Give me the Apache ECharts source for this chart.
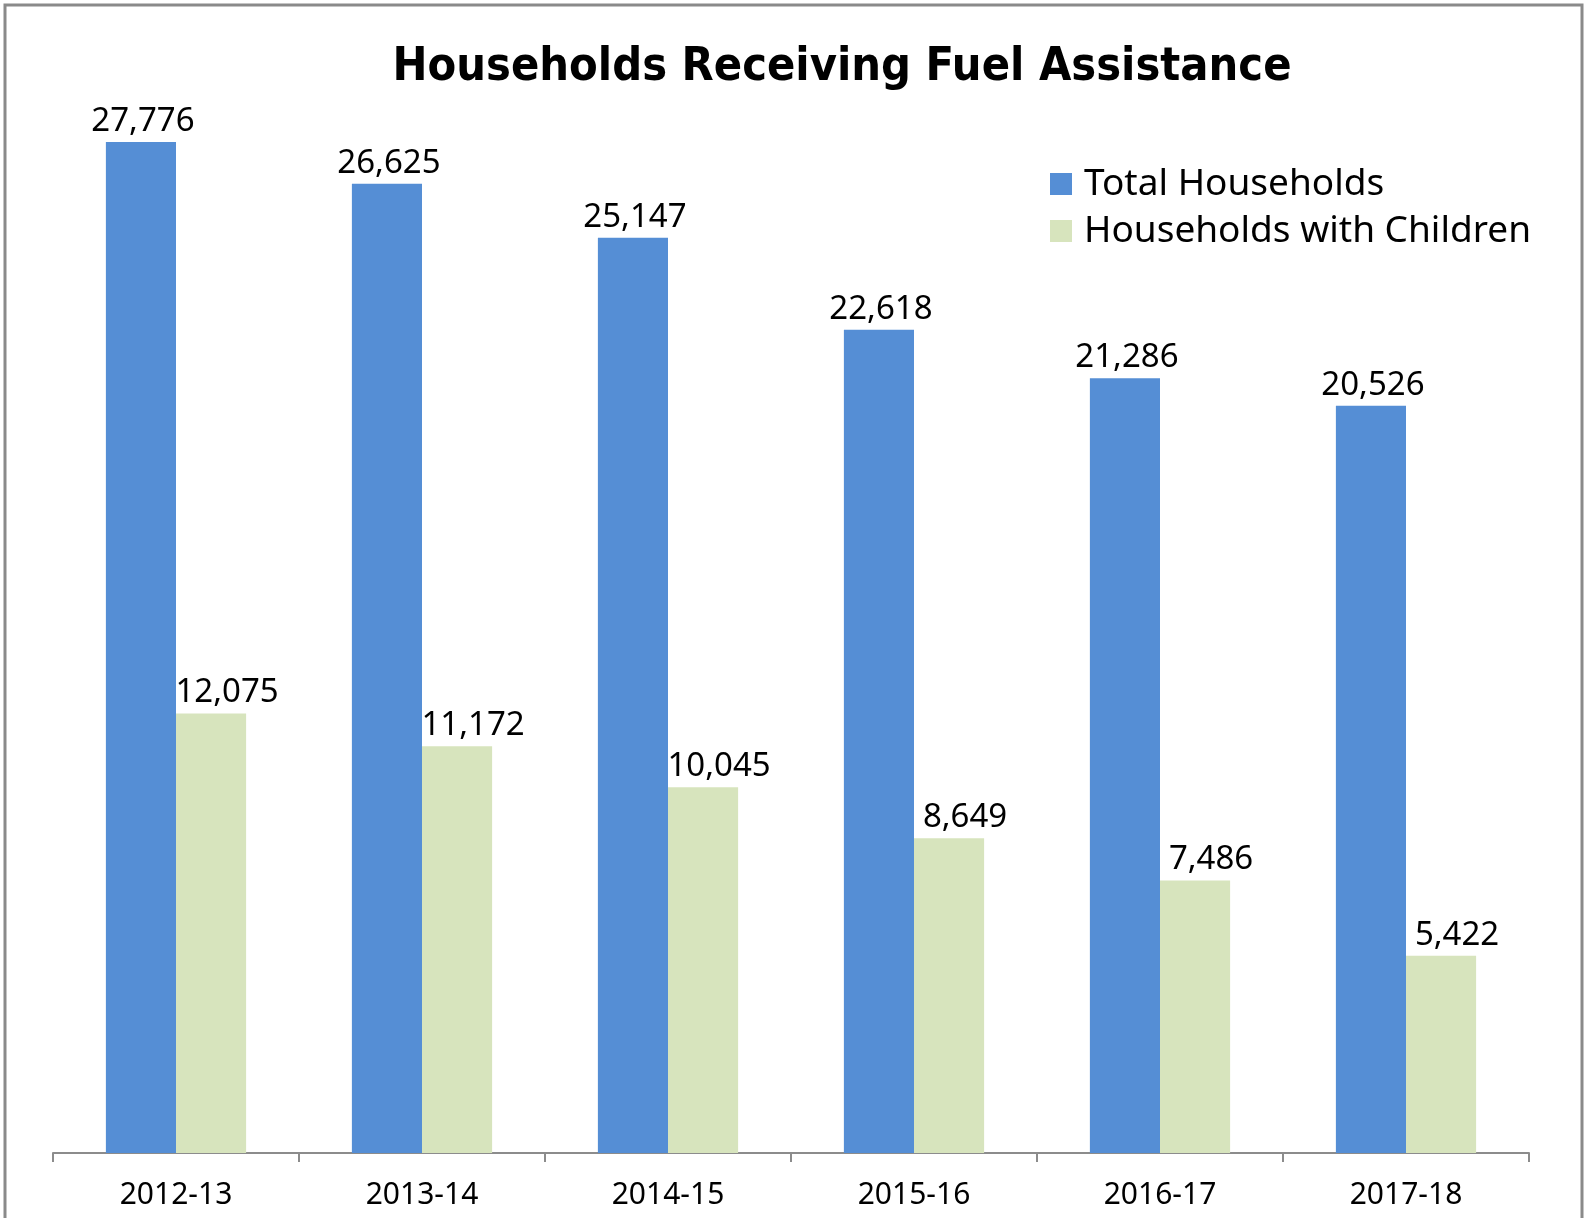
<!DOCTYPE html>
<html>
<head>
<meta charset="utf-8">
<script src="https://cdn.jsdelivr.net/npm/echarts@6/dist/echarts.min.js"></script>
<style>
  html, body { margin: 0; padding: 0; background: #fff; }
  #chart { width: 1589px; height: 1218px; }
</style>
</head>
<body>
<div id="chart"></div>
<script>
var categories = ['2012-13', '2013-14', '2014-15', '2015-16', '2016-17', '2017-18'];
var totalHouseholds = [27776, 26625, 25147, 22618, 21286, 20526];
var withChildren = [12075, 11172, 10045, 8649, 7486, 5422];
var seriesNames = ['Total Households', 'Households with Children'];

var font = 'Noto Sans';
var myChart = echarts.init(document.getElementById('chart'));

function makeLabel(dx) {
    return {
        show: true,
        position: 'top',
        distance: 4,
        offset: [dx, 0],
        color: '#000',
        fontFamily: font,
        fontSize: 33,
        formatter: function (p) {
            return p.value.toLocaleString('en-US');
        }
    };
}

var option = {
    animation: false,
    title: {
        text: 'Households Receiving Fuel Assistance',
        left: 837,
        top: 39,
        textAlign: 'center',
        textStyle: {
            fontFamily: 'DejaVu Sans Condensed',
            fontWeight: 'bold',
            fontSize: 46.5,
            color: '#000'
        }
    },
    legend: {
        orient: 'vertical',
        left: 1050,
        top: 164,
        padding: 0,
        itemWidth: 22,
        itemHeight: 22,
        itemGap: 7,
        icon: 'rect',
        textStyle: {
            fontFamily: font,
            fontSize: 37,
            color: '#000',
            lineHeight: 40,
            padding: [0, 0, 0, 7]
        },
        data: seriesNames
    },
    graphic: [{
        type: 'rect',
        shape: { x: 5, y: 5, width: 1577, height: 1230 },
        style: { fill: 'none', stroke: '#8a8a8a', lineWidth: 3 },
        silent: true
    }],
    grid: {
        left: 53,
        right: 60,
        top: 61,
        bottom: 65
    },
    xAxis: {
        type: 'category',
        data: categories,
        axisLine: { lineStyle: { color: '#8c8c8c', width: 2 } },
        axisTick: { show: true, length: 9, lineStyle: { color: '#8c8c8c', width: 2 } },
        axisLabel: {
            color: '#000',
            fontFamily: font,
            fontSize: 30,
            margin: 27
        }
    },
    yAxis: {
        type: 'value',
        min: 0,
        max: 30000,
        show: false,
        splitLine: { show: false }
    },
    series: [
        {
            name: seriesNames[0],
            type: 'bar',
            data: totalHouseholds,
            barGap: '0%',
            barCategoryGap: '43%',
            itemStyle: { color: '#558ed5' },
            label: makeLabel(2)
        },
        {
            name: seriesNames[1],
            type: 'bar',
            data: withChildren,
            itemStyle: { color: '#d7e4bd' },
            label: makeLabel(16)
        }
    ]
};
myChart.setOption(option);
</script>
</body>
</html>
